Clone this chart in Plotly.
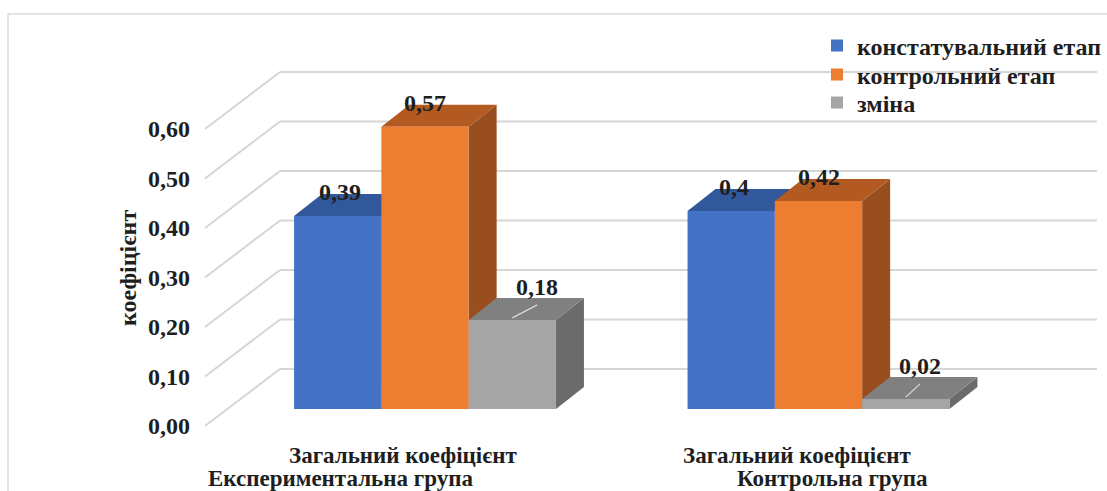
import plotly.graph_objects as go

# ---------------- data ----------------
CATEGORY_LINE1 = ["Загальний коефіцієнт", "Загальний коефіцієнт"]
CATEGORY_LINE2 = ["Експериментальна група", "Контрольна група"]
SERIES_NAMES = ["констатувальний етап", "контрольний етап", "зміна"]
KONSTAT = [0.39, 0.40]
KONTROL = [0.57, 0.42]
ZMINA = [0.18, 0.02]
Y_TICKS = [0.0, 0.1, 0.2, 0.3, 0.4, 0.5, 0.6]
Y_TITLE = "коефіцієнт"

SERIES_VALUES = [KONSTAT, KONTROL, ZMINA]
X_POS = list(range(len(CATEGORY_LINE1)))

# ---------------- styles / geometry ----------------
FRONT_COLORS = ["#4472C4", "#ED7D31", "#A5A5A5"]
TOP_COLORS = ["#31589A", "#B35A22", "#808080"]
SIDE_COLORS = ["#2B4C86", "#984E1E", "#6B6B6B"]
GRID_COLOR = "#D6D6D6"
TEXT_COLOR = "#1E1E1E"
FONT = "Liberation Serif, Times New Roman, DejaVu Serif, serif"
FS = 24

W, H = 1107, 491
PX_X = 393.5   # pixels per category unit
PX_Y = 495.0   # pixels per value unit
BAR_W = 87.3 / PX_X
OFFSETS = [-1.5 * BAR_W, -0.5 * BAR_W, 0.5 * BAR_W]
DEPTH_DX, DEPTH_DY = 28 / PX_X, 22 / PX_Y
BACK_DX, BACK_DY = 53 / PX_X, 40 / PX_Y
FRONT_DX, FRONT_DY = -22 / PX_X, -17 / PX_Y
X_RANGE = [-425 / PX_X, (W - 425) / PX_X]
Y_RANGE = [(409 - H) / PX_Y, 409 / PX_Y]
WALL_LEFT = (227 - 425) / PX_X
WALL_RIGHT = (1097 - 425) / PX_X
LABEL_SHIFTS = [[(2, 24), (3, 24)], [(0, 24), (0, 24)], [(25, 33), (14, 33)]]
LINE2_SHIFT_PX = [-63, 36]
LEGEND_CENTERS_PX = [46, 75, 103]


def fmt(v):
    return f"{v:g}".replace(".", ",")


bold = dict(family=FONT, size=FS, color=TEXT_COLOR, weight="bold")
bold_cat = dict(family=FONT, size=23, color=TEXT_COLOR, weight="bold")

fig = go.Figure()

legend_keys = ["legend", "legend2", "legend3"]
# front faces as bars
for i, (name, vals) in enumerate(zip(SERIES_NAMES, SERIES_VALUES)):
    fig.add_trace(go.Bar(
        x=X_POS, y=vals, name=name, width=BAR_W, offset=OFFSETS[i],
        marker=dict(color=FRONT_COLORS[i], line=dict(width=0)),
        hoverinfo="skip", legend=legend_keys[i],
    ))

# dummy trace for the front-plane value axis
fig.add_trace(go.Scatter(x=[None], y=[None], yaxis="y2", showlegend=False,
                         hoverinfo="skip"))

shapes = []
# walls / gridlines
for t in Y_TICKS:
    xf, yf = WALL_LEFT + FRONT_DX, t + FRONT_DY
    xb, yb = WALL_LEFT + BACK_DX, t + BACK_DY
    shapes.append(dict(type="line", xref="x", yref="y", x0=xf, y0=yf, x1=xb, y1=yb,
                       line=dict(color=GRID_COLOR, width=2), layer="below"))
    shapes.append(dict(type="line", xref="x", yref="y", x0=xb, y0=yb, x1=WALL_RIGHT, y1=yb,
                       line=dict(color=GRID_COLOR, width=2), layer="below"))

# top and side faces
for g in X_POS:
    for i, vals in enumerate(SERIES_VALUES):
        v = vals[g]
        x0 = g + OFFSETS[i]
        x1 = x0 + BAR_W
        top = (f"M{x0},{v} L{x1},{v} L{x1 + DEPTH_DX},{v + DEPTH_DY} "
               f"L{x0 + DEPTH_DX},{v + DEPTH_DY} Z")
        side = (f"M{x1},0 L{x1},{v} L{x1 + DEPTH_DX},{v + DEPTH_DY} "
                f"L{x1 + DEPTH_DX},{DEPTH_DY} Z")
        shapes.append(dict(type="path", xref="x", yref="y", path=side,
                           fillcolor=SIDE_COLORS[i], line=dict(width=0), layer="below"))
        shapes.append(dict(type="path", xref="x", yref="y", path=top,
                           fillcolor=TOP_COLORS[i], line=dict(width=0), layer="below"))

# leader lines for the "зміна" labels
for g in X_POS:
    v = ZMINA[g]
    cx = g + OFFSETS[2] + BAR_W / 2
    sx, _ = LABEL_SHIFTS[2][g]
    shapes.append(dict(type="line", xref="x", yref="y", x0=cx, y0=v + 2 / PX_Y,
                       x1=cx + sx / PX_X, y1=v + 15 / PX_Y,
                       line=dict(color="#D9D9D9", width=1.2), layer="above"))

# outer chart border
shapes.append(dict(type="rect", xref="paper", yref="paper", x0=8 / W, y0=-0.05,
                   x1=1.05, y1=1 - 14 / H, line=dict(color="#D9D9D9", width=1.5),
                   layer="below"))

annotations = []
# data labels
for i, vals in enumerate(SERIES_VALUES):
    for g in X_POS:
        v = vals[g]
        cx = g + OFFSETS[i] + BAR_W / 2
        sx, sy = LABEL_SHIFTS[i][g]
        annotations.append(dict(x=cx, y=v, xref="x", yref="y", text=fmt(v),
                                showarrow=False, xanchor="center", yanchor="middle",
                                xshift=sx, yshift=sy, font=bold))
# category labels
for g in X_POS:
    annotations.append(dict(x=g + FRONT_DX, y=1 - 455 / H, xref="x", yref="paper",
                            text=CATEGORY_LINE1[g], showarrow=False,
                            xanchor="center", yanchor="middle", font=bold_cat))
    annotations.append(dict(x=g + FRONT_DX, y=1 - 478 / H, xref="x", yref="paper",
                            text=CATEGORY_LINE2[g], showarrow=False,
                            xanchor="center", yanchor="middle",
                            xshift=LINE2_SHIFT_PX[g], font=bold_cat))
# axis title
annotations.append(dict(x=128 / W, y=1 - 268 / H, xref="paper", yref="paper",
                        text=Y_TITLE, textangle=-90, showarrow=False,
                        xanchor="center", yanchor="middle", font=bold))

legend_common = dict(xanchor="left", yanchor="middle", font=bold,
                     bgcolor="rgba(0,0,0,0)", itemwidth=30,
                     itemclick=False, itemdoubleclick=False)
legends = {}
for i, key in enumerate(legend_keys):
    legends[key] = dict(x=817 / W, y=1 - LEGEND_CENTERS_PX[i] / H, **legend_common)

fig.update_layout(
    width=W, height=H,
    margin=dict(l=0, r=0, t=0, b=0, pad=0),
    paper_bgcolor="white", plot_bgcolor="white",
    barmode="overlay",
    separators=", ",
    showlegend=True,
    xaxis=dict(range=X_RANGE, visible=False, fixedrange=True),
    yaxis=dict(range=Y_RANGE, visible=False, fixedrange=True),
    yaxis2=dict(overlaying="y", anchor="free", position=190 / W, side="left",
                range=[Y_RANGE[0] - FRONT_DY, Y_RANGE[1] - FRONT_DY],
                tickvals=Y_TICKS, ticktext=[f"{t:.2f}".replace(".", ",") for t in Y_TICKS],
                showgrid=False, zeroline=False, showline=False, ticks="",
                tickfont=bold, fixedrange=True),
    shapes=shapes,
    annotations=annotations,
    **legends,
)

fig.write_html("out.html")
